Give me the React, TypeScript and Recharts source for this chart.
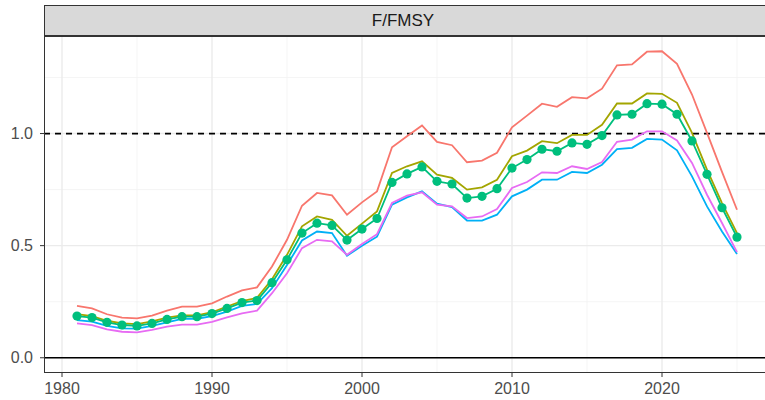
import { ComposedChart, Line, XAxis, YAxis, ReferenceLine } from "recharts";

const years = [
  1981, 1982, 1983, 1984, 1985, 1986, 1987, 1988, 1989, 1990,
  1991, 1992, 1993, 1994, 1995, 1996, 1997, 1998, 1999, 2000,
  2001, 2002, 2003, 2004, 2005, 2006, 2007, 2008, 2009, 2010,
  2011, 2012, 2013, 2014, 2015, 2016, 2017, 2018, 2019, 2020,
  2021, 2022, 2023, 2024, 2025,
];

const upper = [
  0.231, 0.22, 0.194, 0.179, 0.176, 0.188, 0.21, 0.228, 0.228, 0.243,
  0.273, 0.3, 0.314, 0.407, 0.526, 0.678, 0.735, 0.724, 0.638, 0.693,
  0.742, 0.939, 0.988, 1.036, 0.963, 0.948, 0.872, 0.879, 0.914, 1.028,
  1.08, 1.133, 1.119, 1.162, 1.157, 1.2, 1.304, 1.308, 1.365, 1.367,
  1.311, 1.174, 1.003, 0.829, 0.66,
];

const olive = [
  0.195, 0.186, 0.165, 0.153, 0.15, 0.162, 0.179, 0.189, 0.189, 0.203,
  0.228, 0.253, 0.267, 0.35, 0.459, 0.586, 0.63, 0.615, 0.544, 0.598,
  0.653, 0.824, 0.854, 0.876, 0.817, 0.802, 0.75, 0.76, 0.794, 0.899,
  0.924, 0.966, 0.957, 0.994, 0.994, 1.039, 1.134, 1.134, 1.179, 1.177,
  1.137, 1.003, 0.839, 0.69, 0.556,
];

const central = [
  0.186, 0.179, 0.158, 0.146, 0.142, 0.153, 0.171, 0.183, 0.183, 0.197,
  0.22, 0.246, 0.255, 0.335, 0.437, 0.556, 0.6, 0.59, 0.525, 0.574,
  0.621, 0.782, 0.82, 0.851, 0.787, 0.775, 0.712, 0.72, 0.754, 0.846,
  0.884, 0.93, 0.921, 0.958, 0.952, 0.991, 1.083, 1.086, 1.133, 1.131,
  1.086, 0.967, 0.818, 0.669, 0.538,
];

const blue = [
  0.168, 0.161, 0.142, 0.131, 0.13, 0.142, 0.158, 0.173, 0.174, 0.186,
  0.206, 0.231, 0.24, 0.31, 0.414, 0.523, 0.563, 0.556, 0.455, 0.5,
  0.54, 0.683, 0.715, 0.742, 0.687, 0.672, 0.612, 0.612, 0.638, 0.72,
  0.75, 0.794, 0.794, 0.829, 0.824, 0.861, 0.931, 0.936, 0.976, 0.973,
  0.925, 0.809, 0.675, 0.563, 0.463,
];

const magenta = [
  0.153, 0.146, 0.127, 0.116, 0.113, 0.124, 0.139, 0.148, 0.148, 0.16,
  0.18, 0.198, 0.21, 0.288, 0.377, 0.489, 0.526, 0.519, 0.459, 0.507,
  0.551, 0.69, 0.723, 0.738, 0.683, 0.675, 0.623, 0.63, 0.663, 0.757,
  0.784, 0.827, 0.824, 0.854, 0.842, 0.873, 0.963, 0.973, 1.01, 1.01,
  0.969, 0.869, 0.727, 0.601, 0.471,
];

const xTicks = [1980, 1990, 2000, 2010, 2020];
const xMinor = [1985, 1995, 2005, 2015, 2025];
const yTicks = [0, 0.5, 1];
const yMinor = [0.25, 0.75, 1.25];

const data = years.map((year, i) => ({
  year,
  upper: upper[i],
  olive: olive[i],
  central: central[i],
  blue: blue[i],
  magenta: magenta[i],
}));

const FONT = "'Liberation Sans', Arial, sans-serif";
const tickStyle = { fontSize: 16, fill: "#4D4D4D", fontFamily: FONT };

export default function App() {
  return (
    <div style={{ position: "absolute", left: 0, top: 0, width: 765, height: 400, overflow: "hidden", background: "#fff" }}>
      {/* facet strip */}
      <div
        style={{
          position: "absolute", left: 44, top: 5, width: 730, height: 31,
          background: "#D9D9D9", border: "1px solid #333333", boxSizing: "border-box",
          fontFamily: FONT, fontSize: 17, color: "#1A1A1A",
          display: "flex", alignItems: "center", justifyContent: "center", paddingRight: 12,
        }}
      >
        F/FMSY
      </div>
      <div style={{ position: "absolute", left: 0, top: 0 }}>
        <ComposedChart width={772} height={400} data={data} margin={{ top: 36, right: 2, bottom: 0, left: 0 }}>
          {xMinor.map((x) => (
            <ReferenceLine key={`xm${x}`} x={x} stroke="#F2F2F2" strokeWidth={0.8} />
          ))}
          {yMinor.map((y) => (
            <ReferenceLine key={`ym${y}`} y={y} stroke="#F2F2F2" strokeWidth={0.8} />
          ))}
          {xTicks.map((x) => (
            <ReferenceLine key={`x${x}`} x={x} stroke="#EBEBEB" strokeWidth={1.4} />
          ))}
          {yTicks.map((y) => (
            <ReferenceLine key={`y${y}`} y={y} stroke="#EBEBEB" strokeWidth={1.4} />
          ))}
          <XAxis
            dataKey="year"
            type="number"
            domain={[1978.8, 2027.2]}
            ticks={xTicks}
            allowDataOverflow
            height={27}
            tick={tickStyle}
            tickSize={4}
            tickMargin={6}
            stroke="#333333"
            tickLine={{ stroke: "#333333" }}
            axisLine={false}
          />
          <YAxis
            type="number"
            domain={[-0.068, 1.435]}
            ticks={yTicks}
            allowDataOverflow
            width={44}
            tick={tickStyle}
            tickFormatter={(v: number) => v.toFixed(1)}
            tickSize={4}
            tickMargin={7}
            stroke="#333333"
            tickLine={{ stroke: "#333333" }}
            axisLine={false}
          />
          <ReferenceLine y={0} stroke="#000000" strokeWidth={1.7} />
          <ReferenceLine y={1} stroke="#000000" strokeWidth={1.7} strokeDasharray="6 5" />
          <Line dataKey="upper" stroke="#F8766D" strokeWidth={1.8} dot={false} isAnimationActive={false} />
          <Line dataKey="olive" stroke="#A3A500" strokeWidth={1.8} dot={false} isAnimationActive={false} />
          <Line
            dataKey="central"
            stroke="#00BF7D"
            strokeWidth={1.8}
            dot={{ r: 4.6, fill: "#00BF7D", stroke: "none" }}
            isAnimationActive={false}
          />
          <Line dataKey="blue" stroke="#00B0F6" strokeWidth={1.8} dot={false} isAnimationActive={false} />
          <Line dataKey="magenta" stroke="#E76BF3" strokeWidth={1.8} dot={false} isAnimationActive={false} />
        </ComposedChart>
      </div>
      {/* panel border */}
      <div
        style={{
          position: "absolute", left: 44, top: 36, width: 730, height: 337,
          border: "1px solid #333333", boxSizing: "border-box", pointerEvents: "none",
        }}
      />
    </div>
  );
}
